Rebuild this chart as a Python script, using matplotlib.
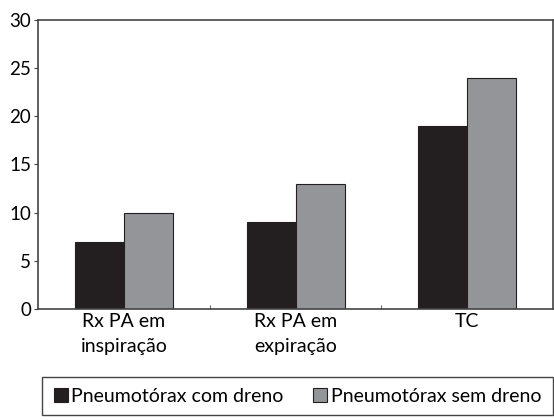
import matplotlib.pyplot as plt
from matplotlib.patches import Rectangle
import numpy as np

categories = ["Rx PA em\ninspiração", "Rx PA em\nexpiração", "TC"]
com_dreno = [7, 9, 19]
sem_dreno = [10, 13, 24]
series_names = ["Pneumotórax com dreno", "Pneumotórax sem dreno"]

plt.rcParams['font.family'] = ['Lato', 'DejaVu Sans']

fig = plt.figure(figsize=(5.54, 4.2), dpi=100)
ax = fig.add_axes([0.0686, 0.2643, 0.93, 0.6881])

x = np.arange(len(categories))
w = 0.285
b1 = ax.bar(x - w / 2, com_dreno, w, color="#231f20", edgecolor="#231f20",
            linewidth=0.8, label=series_names[0])
b2 = ax.bar(x + w / 2, sem_dreno, w, color="#939598", edgecolor="#231f20",
            linewidth=0.8, label=series_names[1])

ax.set_xlim(-0.5, 2.5)
ax.set_ylim(0, 30)
ax.set_yticks(range(0, 31, 5))
ax.set_xticks(x)
ax.set_xticklabels(categories, fontsize=14, linespacing=1.55)
ax.tick_params(axis='x', length=0, pad=3)
ax.set_xticks([0.5, 1.5], minor=True)
ax.tick_params(axis='x', which='minor', length=3, direction='in', color="#444444")
ax.tick_params(axis='y', labelsize=13.5, length=3, color="#444444", pad=2)
for s in ax.spines.values():
    s.set_color("#444444")
    s.set_linewidth(1.2)

# legend box drawn separately so the padding matches the original
box = Rectangle((0.0758, 0.0119), 0.9224, 0.0905, transform=fig.transFigure,
                fill=False, edgecolor="#444444", linewidth=1.0)
fig.patches.append(box)
fig.legend(handles=[b1, b2], loc='center', bbox_to_anchor=(0.537, 0.0571),
           ncol=2, fontsize=14, frameon=False,
           handlelength=0.7, handleheight=0.7, handletextpad=0.2,
           columnspacing=1.5, borderpad=0, borderaxespad=0)

fig.savefig("out.png", dpi=100)
